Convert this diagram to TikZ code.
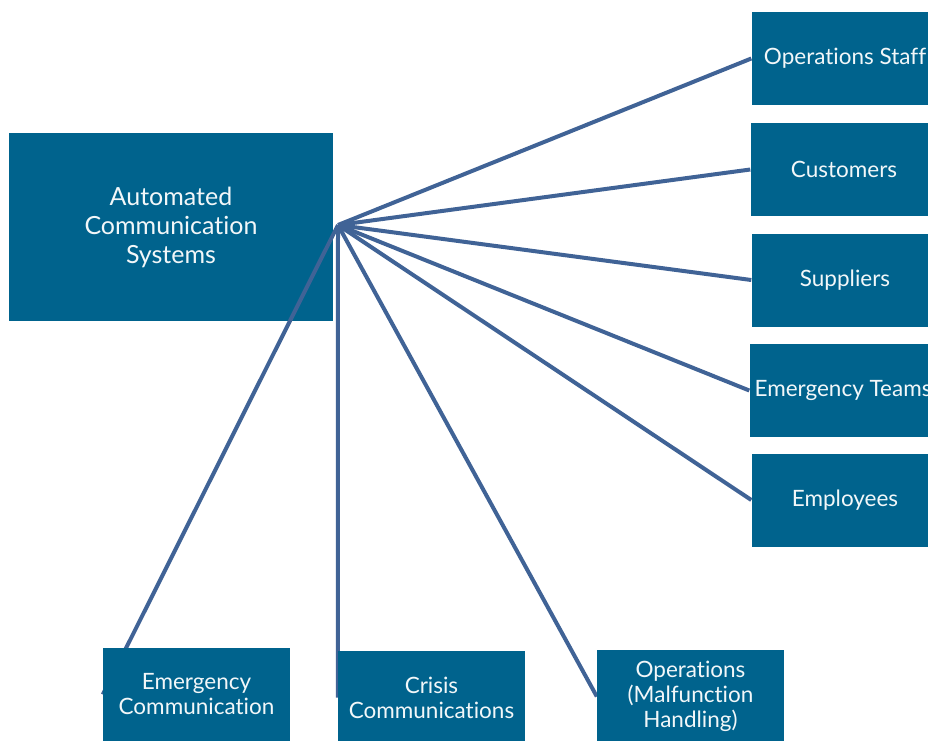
\documentclass[tikz,border=0pt]{standalone}
\usepackage{fontspec}
\setmainfont{Lato}[Ligatures=NoCommon]
\usepackage{xcolor}
\definecolor{boxblue}{RGB}{0,99,141}
\definecolor{linkblue}{RGB}{64,99,150}
\pgfdeclarelayer{front}
\pgfsetlayers{main,front}

\begin{document}
\begin{tikzpicture}[x=1pt,y=-1pt,font=\fontsize{22.5}{25}\selectfont,
    box/.style={fill=boxblue,text=white!95!boxblue,align=center,inner sep=0pt,
      minimum width=187pt,minimum height=93pt},
    link/.style={draw=linkblue,line width=4pt}]
  \useasboundingbox (0,0) rectangle (928,740);
  \node[box,minimum width=324pt,minimum height=188pt,
    font=\fontsize{25}{29}\selectfont] (acs) at (171,227)
    {Automated\\Communication\\Systems};
  \coordinate (hub) at (338,225);
  \begin{pgfonlayer}{front}
    % groups reached by the system
    \foreach \name/\x/\y/\txt in {%
        staff/845/58.5/{Operations Staff},
        customers/844/169.5/{Customers},
        suppliers/845/280/{Suppliers},
        teams/843/390.5/{Emergency Teams},
        employees/845/500/{Employees}}{
      \node[box] (\name) at (\x,\y) {\txt};
    }
    % kinds of communication
    \foreach \name/\x/\y/\txt in {%
        emergency/196.5/694.5/{Emergency\\Communication},
        crisis/431.5/697.5/{Crisis\\Communications},
        malfunction/690.5/696.5/{Operations\\(Malfunction\\Handling)}}{
      \node[box] (\name) at (\x,\y) {\txt};
    }
  \end{pgfonlayer}
  \foreach \name in {staff,customers,suppliers,teams,employees,emergency,crisis,malfunction}
    \draw[link] (hub) -- (\name.west);
\end{tikzpicture}
\end{document}
